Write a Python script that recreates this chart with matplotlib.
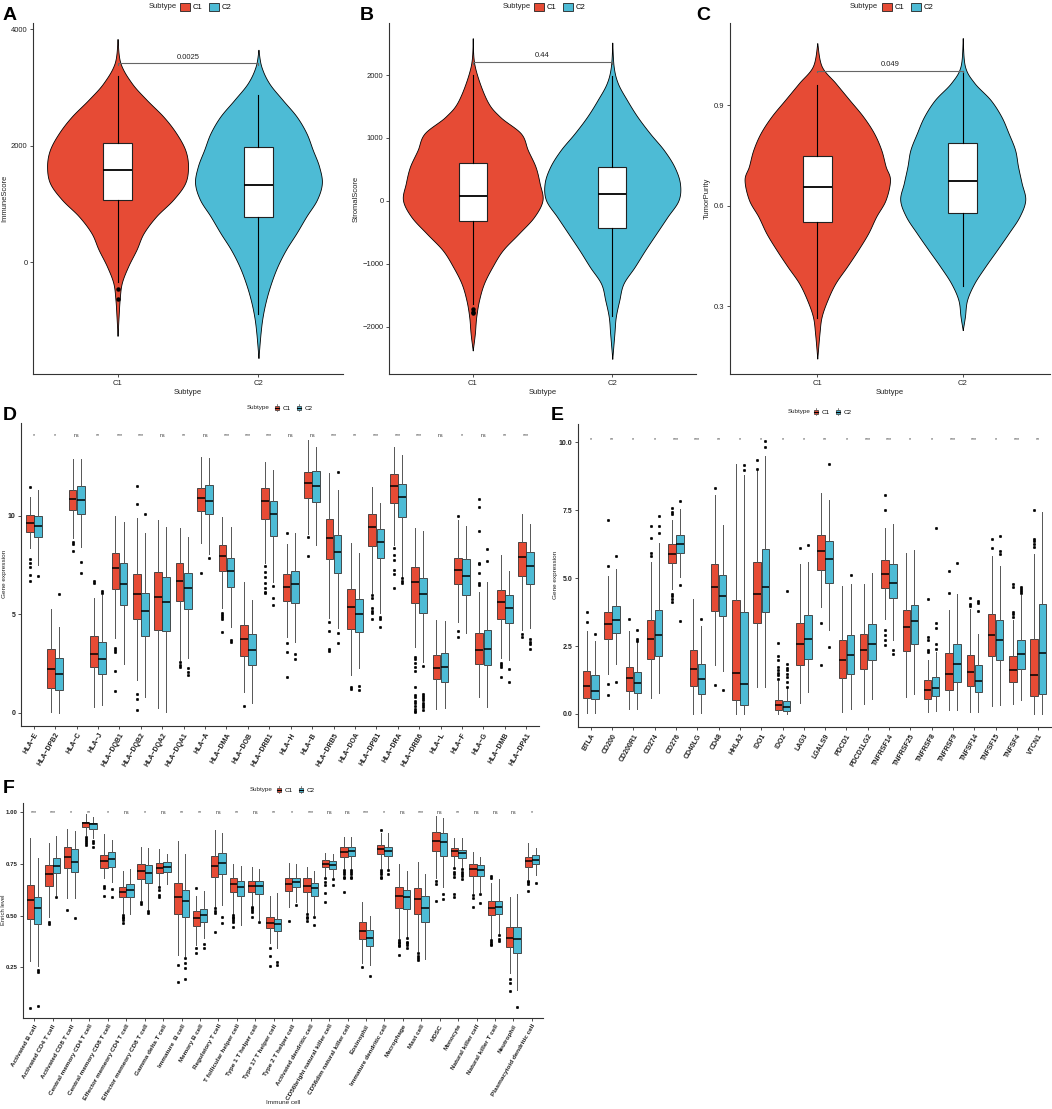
import numpy as np
import matplotlib
matplotlib.use('Agg')
import matplotlib.pyplot as plt
from matplotlib.patches import Rectangle, Patch
from matplotlib.lines import Line2D
from matplotlib.legend_handler import HandlerBase

plt.rcParams['font.family'] = ['Liberation Sans', 'DejaVu Sans']

RED = '#E64B35'
BLUE = '#4DBBD5'
groups = ['C1', 'C2']

# ---------------- Panels A-C : violin data ----------------
A_c1_levels = [3830, 3420, 3075, 2790, 2500, 2220, 1930, 1650, 1360, 1075, 790, 500, 220, -70, -355, -640, -925, -1260]
A_c1_dens = [0, 0.04, 0.2, 0.41, 0.65, 0.83, 0.96, 1.0, 0.96, 0.79, 0.55, 0.37, 0.27, 0.15, 0.06, 0.03, 0.015, 0]
A_c2_levels = [3646, 3360, 3074, 2789, 2503, 2217, 1931, 1646, 1360, 1074, 789, 503, 217, -69, -354, -640, -926, -1211, -1640]
A_c2_dens = [0, 0.04, 0.15, 0.34, 0.54, 0.68, 0.77, 0.86, 0.9, 0.83, 0.68, 0.54, 0.39, 0.27, 0.18, 0.11, 0.06, 0.03, 0]
A_box_c1 = dict(whislo=-340, q1=1077, med=1590, q3=2051, whishi=3197, fliers=[-460, -630])
A_box_c2 = dict(whislo=-880, q1=770, med=1330, q3=1980, whishi=2870, fliers=[])

B_c1_levels = [2586, 2135, 1604, 1338, 1073, 807, 542, 276, 11, -255, -520, -786, -1052, -1317, -1583, -1848, -2114, -2379]
B_c1_dens = [0, 0.03, 0.2, 0.39, 0.69, 0.79, 0.9, 0.96, 1.0, 0.88, 0.66, 0.43, 0.28, 0.16, 0.09, 0.05, 0.03, 0]
B_c2_levels = [2517, 2135, 1869, 1604, 1338, 1073, 807, 542, 276, 11, -255, -520, -786, -1052, -1317, -1583, -1848, -2114, -2512]
B_c2_dens = [0, 0.02, 0.08, 0.21, 0.36, 0.54, 0.74, 0.89, 0.97, 0.95, 0.79, 0.63, 0.47, 0.32, 0.16, 0.1, 0.05, 0.03, 0]
B_box_c1 = dict(whislo=-1640, q1=-324, med=80, q3=605, whishi=2000, fliers=[-1720, -1760, -1790])
B_box_c2 = dict(whislo=-1830, q1=-425, med=117, q3=542, whishi=1980, fliers=[])

C_c1_levels = [1.085, 1.016, 0.966, 0.916, 0.866, 0.816, 0.766, 0.717, 0.677, 0.617, 0.567, 0.517, 0.467, 0.418, 0.368, 0.318, 0.268, 0.218, 0.143]
C_c1_dens = [0, 0.06, 0.25, 0.44, 0.63, 0.78, 0.88, 0.94, 1.0, 0.94, 0.81, 0.7, 0.56, 0.41, 0.25, 0.14, 0.06, 0.03, 0]
C_c2_levels = [1.1, 1.016, 0.966, 0.916, 0.866, 0.816, 0.766, 0.717, 0.667, 0.617, 0.567, 0.517, 0.467, 0.418, 0.368, 0.318, 0.268, 0.228]
C_c2_dens = [0, 0.03, 0.16, 0.38, 0.53, 0.63, 0.72, 0.76, 0.81, 0.86, 0.78, 0.63, 0.47, 0.31, 0.16, 0.06, 0.03, 0]
C_box_c1 = dict(whislo=0.263, q1=0.552, med=0.655, q3=0.747, whishi=0.961, fliers=[])
C_box_c2 = dict(whislo=0.36, q1=0.577, med=0.672, q3=0.788, whishi=1.003, fliers=[])

A_p, B_p, C_p = '0.0025', '0.44', '0.049'
A_bracket, B_bracket, C_bracket = 3410, 2204, 1.0027

# ---------------- Panel D ----------------
d_genes = ['HLA\u2212E', 'HLA\u2212DPB2', 'HLA\u2212C', 'HLA\u2212J', 'HLA\u2212DQB1', 'HLA\u2212DQB2', 'HLA\u2212DQA2',
           'HLA\u2212DQA1', 'HLA\u2212A', 'HLA\u2212DMA', 'HLA\u2212DOB', 'HLA\u2212DRB1', 'HLA\u2212H', 'HLA\u2212B',
           'HLA\u2212DRB5', 'HLA\u2212DOA', 'HLA\u2212DPB1', 'HLA\u2212DRA', 'HLA\u2212DRB6', 'HLA\u2212L', 'HLA\u2212F',
           'HLA\u2212G', 'HLA\u2212DMB', 'HLA\u2212DPA1']
d_sig = ['*', '*', 'ns', '**', '***', '***', 'ns', '**', 'ns', '***', '***', '***', 'ns', 'ns', '***', '**', '***',
         '***', '***', 'ns', '*', 'ns', '**', '***']
d_c1_lo = [8.34, 0.05, 8.85, 0.3, 3.77, 1.65, 0.25, 2.67, 8.6, 5.3, 1.03, 7.58, 3.86, 9.05, 4.79, 1.91, 6.06, 8.5, 3.35, 0.17, 4.62, 0.81, 2.76, 4.2]
d_c1_q1 = [9.15, 1.27, 10.29, 2.32, 6.26, 4.75, 4.2, 5.67, 10.25, 7.21, 2.88, 9.81, 5.67, 10.88, 7.8, 4.26, 8.48, 10.63, 5.58, 1.69, 6.53, 2.45, 4.75, 6.95]
d_c1_med = [9.64, 2.2, 10.83, 3.0, 7.36, 6.0, 5.85, 6.67, 10.88, 7.97, 3.76, 10.73, 6.4, 11.64, 8.88, 5.38, 9.44, 11.52, 6.62, 2.25, 7.24, 3.18, 5.63, 7.92]
d_c1_q3 = [10.05, 3.25, 11.3, 3.9, 8.09, 7.04, 7.16, 7.58, 11.39, 8.51, 4.43, 11.39, 7.02, 12.2, 9.83, 6.26, 10.08, 12.11, 7.41, 2.93, 7.87, 4.03, 6.23, 8.68]
d_c1_hi = [10.96, 5.25, 12.86, 5.8, 9.98, 9.9, 9.8, 9.36, 12.96, 9.95, 6.62, 12.7, 8.56, 13.84, 12.15, 8.63, 11.47, 13.47, 9.36, 4.7, 9.78, 6.14, 8.0, 10.09]
d_c1_out = [[11.47, 7.8, 7.6, 7.4, 7.0, 6.7], [], [8.68, 8.56, 8.2], [6.7, 6.6], [3.27, 3.18, 3.1, 2.13, 1.12],
            [11.5, 10.58, 0.93, 0.68, 0.14], [], [2.55, 2.42, 2.3], [7.07], [5.08, 4.96, 4.84, 4.74, 4.11], [0.34],
            [7.45, 7.16, 6.9, 6.56, 6.31, 6.14, 6.06], [9.1, 3.55, 3.06, 1.83], [8.9, 7.95], [4.62, 4.16, 3.21, 3.14],
            [1.32, 1.18], [5.97, 5.8, 5.3, 5.18, 5.04, 4.74], [8.34, 8.0, 7.75, 7.24, 7.02, 6.35],
            [2.84, 2.7, 2.5, 2.3, 2.1, 1.3, 0.9, 0.8, 0.6, 0.5, 0.35, 0.2, 0.1, 0.05], [], [9.98, 4.16, 3.86],
            [10.85, 10.46, 9.24, 7.61, 7.55, 7.1, 6.56, 6.48], [2.54, 2.42, 2.3, 1.83], [3.98, 3.86]]
d_c2_lo = [7.5, 0.0, 8.43, 0.4, 2.45, 0.78, 0.05, 2.8, 8.05, 4.37, 0.47, 6.62, 3.6, 8.5, 4.28, 2.25, 5.04, 6.9, 2.59, 0.22, 4.06, 0.27, 2.67, 4.28]
d_c2_q1 = [8.9, 1.15, 10.08, 1.95, 5.45, 3.89, 4.13, 5.25, 10.08, 6.4, 2.42, 8.98, 5.55, 10.71, 7.1, 4.08, 7.83, 9.95, 5.08, 1.57, 5.99, 2.42, 4.53, 6.52]
d_c2_med = [9.47, 1.95, 10.8, 2.72, 6.51, 5.16, 5.62, 6.35, 10.74, 7.21, 3.16, 10.07, 6.51, 11.5, 8.17, 4.99, 8.68, 10.96, 6.02, 2.32, 6.95, 3.21, 5.3, 7.46]
d_c2_q3 = [10.0, 2.76, 11.5, 3.57, 7.58, 6.06, 6.9, 7.07, 11.54, 7.87, 3.98, 10.73, 7.19, 12.28, 9.02, 5.75, 9.31, 11.6, 6.82, 3.01, 7.78, 4.2, 5.97, 8.17]
d_c2_hi = [11.3, 4.33, 12.86, 5.97, 9.7, 9.1, 9.4, 8.9, 12.91, 9.44, 5.72, 12.32, 9.1, 13.5, 11.3, 8.12, 10.63, 13.08, 9.24, 4.65, 9.48, 6.65, 7.21, 9.58]
d_c2_out = [[6.95], [6.04], [7.63, 7.1], [6.2, 6.05], [], [10.1], [], [2.25, 2.08, 1.91], [7.87], [3.69, 3.6], [],
            [6.45, 5.8, 5.47], [2.96, 2.74], [], [12.2, 4.06, 3.55], [1.37, 1.15], [4.87, 4.75, 4.33],
            [6.82, 6.68, 6.56], [2.39, 0.95, 0.85, 0.75, 0.62, 0.5, 0.4, 0.3, 0.15], [], [], [8.31, 7.72],
            [2.22, 1.54], [3.74, 3.6, 3.48, 3.23]]

# ---------------- Panel E ----------------
e_genes = ['BTLA', 'CD200', 'CD200R1', 'CD274', 'CD276', 'CD40LG', 'CD48', 'HHLA2', 'IDO1', 'IDO2', 'LAG3', 'LGALS9',
           'PDCD1', 'PDCD1LG2', 'TNFRSF14', 'TNFRSF25', 'TNFRSF8', 'TNFRSF9', 'TNFSF14', 'TNFSF15', 'TNFSF4', 'VTCN1']
e_sig = ['*', '**', '*', '*', '***', '***', '**', '*', '*', '*', '*', '**', '*', '***', '***', '*', '*', '***', '***',
         '*', '***', '**']
e_c1_lo = [0.04, 1.48, 0.18, 0.6, 4.6, 0.01, 1.79, 0.01, 0.99, 0.01, 0.4, 3.93, 0.07, 0.38, 3.5, 0.63, 0.07, 0.13, 0.07, 0.28, 0.36, 0.01]
e_c1_q1 = [0.6, 2.75, 0.85, 2.02, 5.55, 1.03, 3.79, 0.53, 3.36, 0.13, 1.79, 5.28, 1.32, 1.67, 4.63, 2.3, 0.55, 0.89, 1.03, 2.12, 1.18, 0.66]
e_c1_med = [1.03, 3.32, 1.32, 2.75, 5.89, 1.65, 4.68, 1.52, 4.42, 0.32, 2.59, 5.98, 1.97, 2.37, 5.16, 3.2, 0.89, 1.48, 1.54, 2.89, 1.63, 1.42]
e_c1_q3 = [1.58, 3.74, 1.73, 3.47, 6.26, 2.34, 5.53, 4.2, 5.59, 0.53, 3.35, 6.57, 2.71, 2.95, 5.65, 3.84, 1.24, 2.24, 2.16, 3.66, 2.13, 2.77]
e_c1_hi = [3.04, 5.07, 3.05, 5.59, 7.14, 4.24, 8.04, 9.2, 8.96, 1.21, 5.53, 8.13, 4.71, 4.79, 6.85, 5.92, 1.97, 3.84, 3.85, 5.8, 3.47, 5.9]
e_c1_out = [[3.75, 3.38], [7.12, 5.44, 1.12, 0.69], [3.5], [6.92, 6.47, 5.93, 5.83], [7.57, 7.45, 7.35, 4.42, 4.33, 4.24, 4.12],
            [], [8.32, 1.08], [], [9.33, 9.01], [2.62, 2.13, 1.97, 1.73, 1.6, 1.5, 1.42, 1.3], [6.1], [3.36, 1.79], [], [],
            [8.04, 7.49, 3.1, 2.89, 2.71, 2.52], [], [4.22, 2.83, 2.71, 2.37, 2.28], [5.25, 4.45], [4.28, 4.03, 3.97],
            [6.42, 6.12], [4.79, 4.67, 3.75, 3.66, 3.57], [7.51, 6.45, 6.35, 6.25, 6.16]]
e_c2_lo = [0.04, 1.85, 0.18, 0.77, 5.04, 0.04, 1.58, 0.01, 0.99, 0.01, 0.81, 3.08, 0.2, 0.56, 2.71, 0.75, 0.11, 0.13, 0.07, 0.32, 0.5, 0.01]
e_c2_q1 = [0.56, 2.99, 0.78, 2.14, 5.93, 0.75, 3.59, 0.32, 3.75, 0.11, 2.03, 4.83, 1.48, 2.0, 4.28, 2.56, 0.66, 1.18, 0.81, 1.97, 1.64, 0.75]
e_c2_med = [0.86, 3.47, 1.15, 2.92, 6.25, 1.27, 4.34, 1.12, 4.67, 0.26, 2.77, 5.71, 2.18, 2.59, 4.83, 3.42, 0.97, 1.83, 1.2, 2.73, 2.22, 2.24]
e_c2_q3 = [1.45, 3.98, 1.54, 3.84, 6.6, 1.84, 5.1, 3.74, 6.08, 0.47, 3.65, 6.38, 2.92, 3.32, 5.53, 4.02, 1.36, 2.56, 1.81, 3.47, 2.71, 4.06]
e_c2_hi = [2.68, 5.32, 2.65, 6.3, 7.55, 3.22, 6.96, 8.81, 9.51, 0.97, 5.59, 7.89, 4.79, 5.18, 7.0, 6.02, 2.28, 4.4, 2.95, 5.43, 4.36, 7.43]
e_c2_out = [[2.94], [5.83, 1.18], [3.08, 2.77, 2.68], [7.3, 6.92, 6.67], [7.82, 4.73, 3.42], [3.5], [0.89], [9.17, 8.98],
            [10.04, 9.82], [4.52, 1.83, 1.7, 1.6, 1.48, 1.36, 1.18, 0.99], [6.23], [9.2, 2.46], [5.1], [], [2.37, 2.22],
            [], [6.85, 3.36, 3.17, 2.59, 2.4], [5.56], [4.14, 4.08, 3.79], [6.54, 5.99, 5.9], [4.69, 4.61, 4.52, 4.46], []]

# ---------------- Panel F ----------------
f_cells = ['Activated B cell', 'Activated CD4 T cell', 'Activated CD8 T cell', 'Central memory CD4 T cell',
           'Central memory CD8 T cell', 'Effector memeory CD4 T cell', 'Effector memeory CD8 T cell',
           'Gamma delta T cell', 'Immature  B cell', 'Memory B cell', 'Regulatory T cell', 'T follicular helper cell',
           'Type 1 T helper cell', 'Type 17 T helper cell', 'Type 2 T helper cell', 'Activated dendritic cell',
           'CD56bright natural killer cell', 'CD56dim natural killer cell', 'Eosinophil', 'Immature dendritic cell',
           'Macrophage', 'Mast cell', 'MDSC', 'Monocyte', 'Natural killer cell', 'Natural killer T cell',
           'Neutrophil', 'Plasmacytoid dendritic cell']
f_sig = ['***', '***', '*', '**', '*', 'ns', '*', 'ns', '**', '**', 'ns', '**', 'ns', '**', '*', '***', 'ns', 'ns',
         '***', '*', 'ns', '***', 'ns', '**', 'ns', 'ns', 'ns', '*']
f_c1_lo = [0.279, 0.495, 0.583, 0.888, 0.68, 0.511, 0.575, 0.643, 0.311, 0.359, 0.543, 0.508, 0.551, 0.367, 0.54, 0.511, 0.684, 0.728, 0.271, 0.728, 0.391, 0.33, 0.683, 0.736, 0.607, 0.386, 0.223, 0.676]
f_c1_q1 = [0.484, 0.643, 0.728, 0.925, 0.731, 0.588, 0.676, 0.704, 0.506, 0.452, 0.688, 0.612, 0.612, 0.439, 0.62, 0.612, 0.732, 0.78, 0.386, 0.795, 0.538, 0.508, 0.813, 0.787, 0.692, 0.503, 0.348, 0.736]
f_c1_med = [0.575, 0.699, 0.78, 0.944, 0.764, 0.612, 0.715, 0.731, 0.591, 0.487, 0.739, 0.651, 0.643, 0.466, 0.651, 0.644, 0.748, 0.808, 0.426, 0.819, 0.595, 0.579, 0.859, 0.809, 0.723, 0.538, 0.391, 0.763]
f_c1_q3 = [0.647, 0.744, 0.829, 0.952, 0.792, 0.639, 0.748, 0.752, 0.655, 0.522, 0.788, 0.683, 0.667, 0.495, 0.679, 0.679, 0.768, 0.829, 0.468, 0.84, 0.636, 0.631, 0.904, 0.824, 0.747, 0.572, 0.447, 0.784]
f_c1_hi = [0.875, 0.848, 0.915, 0.989, 0.891, 0.715, 0.829, 0.819, 0.859, 0.595, 0.912, 0.748, 0.736, 0.595, 0.752, 0.736, 0.803, 0.877, 0.564, 0.896, 0.747, 0.76, 0.979, 0.872, 0.806, 0.655, 0.588, 0.851]
f_c1_out = [[0.055], [0.471, 0.46], [0.527], [0.88, 0.87, 0.86, 0.85, 0.84], [0.643, 0.631, 0.596],
            [0.503, 0.495, 0.487, 0.479, 0.463], [0.567, 0.556], [0.636, 0.625, 0.6, 0.587], [0.263, 0.179],
            [0.631, 0.343, 0.322], [0.535, 0.524, 0.511, 0.42], [0.503, 0.495, 0.487, 0.479, 0.471, 0.447],
            [0.543, 0.535, 0.527, 0.519, 0.495], [0.343, 0.303, 0.258], [0.474], [0.506, 0.495, 0.487, 0.476],
            [0.679, 0.663, 0.647, 0.607, 0.564], [0.72, 0.71, 0.7, 0.688, 0.68, 0.615], [0.25],
            [0.912, 0.72, 0.71, 0.7, 0.688, 0.68], [0.383, 0.375, 0.367, 0.359, 0.351, 0.311],
            [0.322, 0.306, 0.298, 0.287], [0.667, 0.652, 0.572], [0.728, 0.712, 0.7, 0.688, 0.603, 0.588],
            [0.6, 0.583, 0.543], [0.691, 0.683, 0.38, 0.372, 0.364, 0.356], [0.194, 0.175, 0.138],
            [0.667, 0.66, 0.65, 0.62]]
f_c2_lo = [0.258, 0.6, 0.583, 0.872, 0.663, 0.508, 0.53, 0.652, 0.303, 0.391, 0.551, 0.455, 0.479, 0.343, 0.563, 0.503, 0.688, 0.724, 0.263, 0.724, 0.399, 0.29, 0.639, 0.728, 0.615, 0.412, 0.143, 0.696]
f_c2_q1 = [0.458, 0.704, 0.712, 0.915, 0.736, 0.591, 0.659, 0.712, 0.495, 0.471, 0.699, 0.595, 0.603, 0.428, 0.636, 0.596, 0.724, 0.787, 0.351, 0.787, 0.53, 0.471, 0.788, 0.776, 0.692, 0.508, 0.319, 0.747]
f_c2_med = [0.538, 0.74, 0.76, 0.94, 0.771, 0.623, 0.704, 0.736, 0.571, 0.503, 0.752, 0.639, 0.643, 0.458, 0.663, 0.631, 0.745, 0.811, 0.391, 0.809, 0.587, 0.535, 0.854, 0.803, 0.72, 0.543, 0.386, 0.768]
f_c2_q3 = [0.591, 0.779, 0.819, 0.947, 0.808, 0.651, 0.744, 0.76, 0.623, 0.532, 0.8, 0.667, 0.667, 0.484, 0.683, 0.655, 0.764, 0.829, 0.431, 0.829, 0.623, 0.596, 0.896, 0.816, 0.742, 0.572, 0.447, 0.792]
f_c2_hi = [0.779, 0.883, 0.909, 0.976, 0.864, 0.723, 0.827, 0.795, 0.795, 0.62, 0.899, 0.739, 0.723, 0.607, 0.747, 0.715, 0.796, 0.88, 0.5, 0.896, 0.716, 0.7, 0.971, 0.872, 0.784, 0.676, 0.604, 0.824]
f_c2_out = [[0.239, 0.228, 0.0625], [0.591], [0.487], [0.861, 0.851, 0.832], [0.627, 0.591], [], [0.524, 0.511], [],
            [0.295, 0.271, 0.247, 0.196], [0.364, 0.343], [0.495, 0.463], [], [0.471], [0.274, 0.263], [0.551],
            [0.495, 0.455], [0.675, 0.647], [0.72, 0.71, 0.7, 0.688, 0.68], [0.21], [0.72, 0.699],
            [0.391, 0.375, 0.367, 0.359, 0.343], [], [0.603, 0.58], [0.723, 0.71, 0.7, 0.69, 0.675], [0.604, 0.559],
            [0.407, 0.388, 0.378], [0.059], [0.659]]

# ---------------- figure ----------------
W, H = 1052, 1109
fig = plt.figure(figsize=(W / 100, H / 100), dpi=100)


def ax_px(x0, y0, x1, y1):
    return fig.add_axes([x0 / W, 1 - y1 / H, (x1 - x0) / W, (y1 - y0) / H])


def style(ax, fs=5.5, bold=False):
    for s in ['top', 'right']:
        ax.spines[s].set_visible(False)
    for s in ['left', 'bottom']:
        ax.spines[s].set_linewidth(0.8)
        ax.spines[s].set_color('#333333')
    ax.tick_params(length=2.5, width=0.6, color='#333333', labelsize=fs, pad=1.5, labelcolor='#222222')
    if bold:
        for lab in ax.get_yticklabels():
            lab.set_fontweight('bold')


def smooth(y, w, n=10):
    P = np.column_stack([np.asarray(y, float), np.asarray(w, float)])
    P = np.vstack([P[0], P, P[-1]])
    out = []
    t = np.linspace(0, 1, n, endpoint=False)[:, None]
    for i in range(1, len(P) - 2):
        p0, p1, p2, p3 = P[i - 1], P[i], P[i + 1], P[i + 2]
        seg = 0.5 * ((2 * p1) + (-p0 + p2) * t + (2 * p0 - 5 * p1 + 4 * p2 - p3) * t ** 2
                     + (-p0 + 3 * p1 - 3 * p2 + p3) * t ** 3)
        out.append(seg)
    out.append(P[-2][None])
    R = np.vstack(out)
    return R[:, 0], np.clip(R[:, 1], 0, None)


def violin_panel(ax, c1_lv, c1_d, c2_lv, c2_d, box1, box2, ylim, yticks, ylabel, ptxt, pbr):
    for pos, lv, dn, col, bx in [(1, c1_lv, c1_d, RED, box1), (2, c2_lv, c2_d, BLUE, box2)]:
        yy, ww = smooth(lv, dn)
        ax.fill_betweenx(yy, pos - 0.5 * ww, pos + 0.5 * ww, facecolor=col, edgecolor='black', lw=0.6, zorder=1)
        ax.bxp([bx], positions=[pos], widths=0.2, patch_artist=True, showcaps=False, manage_ticks=False,
               boxprops=dict(facecolor='white', edgecolor='#222222', lw=0.8),
               medianprops=dict(color='black', lw=1.3),
               whiskerprops=dict(color='black', lw=0.8),
               flierprops=dict(marker='o', ms=2.2, mfc='black', mec='black'), zorder=3)
    rng = ylim[1] - ylim[0]
    ax.plot([1, 1, 2, 2], [pbr - 0.004 * rng, pbr, pbr, pbr - 0.004 * rng], color='#666666', lw=0.8, zorder=4)
    ax.text(1.5, pbr + 0.008 * rng, ptxt, ha='center', va='bottom', fontsize=5.5, color='#222222')
    ax.set_xlim(0.4, 2.6)
    ax.set_ylim(*ylim)
    ax.set_xticks([1, 2])
    ax.set_xticklabels(groups)
    ax.set_yticks(yticks)
    ax.set_ylabel(ylabel, fontsize=5.5, labelpad=2, color='#222222')
    ax.set_xlabel('Subtype', fontsize=5.5, labelpad=2, color='#222222')
    style(ax)


axA = ax_px(33, 23, 343, 374)
violin_panel(axA, A_c1_levels, A_c1_dens, A_c2_levels, A_c2_dens, A_box_c1, A_box_c2, (-1914, 4104),
             [0, 2000, 4000], 'ImmuneScore', A_p, A_bracket)
axB = ax_px(389, 23, 696, 374)
violin_panel(axB, B_c1_levels, B_c1_dens, B_c2_levels, B_c2_dens, B_box_c1, B_box_c2, (-2753, 2828),
             [-2000, -1000, 0, 1000, 2000], 'StromalScore', B_p, B_bracket)
axC = ax_px(730, 23, 1050, 374)
violin_panel(axC, C_c1_levels, C_c1_dens, C_c2_levels, C_c2_dens, C_box_c1, C_box_c2, (0.097, 1.145),
             [0.3, 0.6, 0.9], 'TumorPurity', C_p, C_bracket)


def stats_list(lo, q1, med, q3, hi, out):
    return [dict(whislo=a, q1=b, med=c, q3=d, whishi=e, fliers=f) for a, b, c, d, e, f in zip(lo, q1, med, q3, hi, out)]


def box_panel(ax, labels, sig, s1, s2, ylim, yticks, ytl, sig_y, width, off, xfs=5, yfs=5):
    n = len(labels)
    pos = np.arange(1, n + 1)
    for stats, sgn, col in [(s1, -1, RED), (s2, 1, BLUE)]:
        ax.bxp(stats, positions=pos + sgn * off, widths=width, patch_artist=True, showcaps=False, manage_ticks=False,
               boxprops=dict(facecolor=col, edgecolor='#333333', lw=0.6),
               medianprops=dict(color='black', lw=1.1),
               whiskerprops=dict(color='#555555', lw=0.7),
               flierprops=dict(marker='o', ms=1.9, mfc='black', mec='black', mew=0.3))
    for p, s in zip(pos, sig):
        ax.text(p, sig_y, s, ha='center', va='center', fontsize=3.8, color='#333333')
    ax.set_xlim(0.4, n + 0.6)
    ax.set_ylim(*ylim)
    ax.set_yticks(yticks)
    ax.set_yticklabels(ytl)
    ax.set_xticks(pos)
    ax.set_xticklabels(labels, rotation=60, ha='right', rotation_mode='anchor', fontsize=xfs, fontweight='bold')
    style(ax, fs=yfs, bold=True)
    for lab in ax.get_xticklabels():
        lab.set_fontsize(xfs)


axD = ax_px(21, 423, 539, 726)
box_panel(axD, d_genes, d_sig,
          stats_list(d_c1_lo, d_c1_q1, d_c1_med, d_c1_q3, d_c1_hi, d_c1_out),
          stats_list(d_c2_lo, d_c2_q1, d_c2_med, d_c2_q3, d_c2_hi, d_c2_out),
          (-0.675, 14.7), [0, 5, 10], ['0', '5', '10'], 14.05, 0.36, 0.19)

axE = ax_px(578, 424, 1051, 727)
box_panel(axE, e_genes, e_sig,
          stats_list(e_c1_lo, e_c1_q1, e_c1_med, e_c1_q3, e_c1_hi, e_c1_out),
          stats_list(e_c2_lo, e_c2_q1, e_c2_med, e_c2_q3, e_c2_hi, e_c2_out),
          (-0.48, 10.67), [0, 2.5, 5, 7.5, 10], ['0.0', '2.5', '5.0', '7.5', '10.0'], 10.1, 0.35, 0.19)

axF = ax_px(23, 803, 543, 1018)
box_panel(axF, f_cells, f_sig,
          stats_list(f_c1_lo, f_c1_q1, f_c1_med, f_c1_q3, f_c1_hi, f_c1_out),
          stats_list(f_c2_lo, f_c2_q1, f_c2_med, f_c2_q3, f_c2_hi, f_c2_out),
          (0.0067, 1.042), [0.25, 0.5, 0.75, 1.0], ['0.25', '0.50', '0.75', '1.00'], 0.995, 0.4, 0.2,
          xfs=4.6, yfs=4.4)

# axis titles for D/E/F placed in the narrow margins
fig.text(5 / W, 1 - 574 / H, 'Gene expression', rotation=90, ha='center', va='center', fontsize=4.6, color='#222222')
fig.text(555 / W, 1 - 575 / H, 'Gene expression', rotation=90, ha='center', va='center', fontsize=4.6, color='#222222')
fig.text(3.5 / W, 1 - 910 / H, 'Enrich level', rotation=90, ha='center', va='center', fontsize=4.2, color='#222222')
fig.text(283 / W, 1 - 1103 / H, 'Immune cell', ha='center', va='center', fontsize=4.6, color='#222222')


# ---------------- legends ----------------
class BoxHandler(HandlerBase):
    def create_artists(self, legend, orig_handle, xd, yd, width, height, fontsize, trans):
        col = orig_handle.get_facecolor()
        x0, y0 = -xd, -yd
        bw = width * 0.7
        bx = x0 + (width - bw) / 2
        r = Rectangle((bx, y0 + height * 0.12), bw, height * 0.76, facecolor=col, edgecolor='#333333', lw=0.5,
                      transform=trans)
        m = Line2D([bx, bx + bw], [y0 + height / 2] * 2, color='black', lw=0.8, transform=trans)
        w1 = Line2D([x0 + width / 2] * 2, [y0 - height * 0.1, y0 + height * 0.12], color='#555555', lw=0.5,
                    transform=trans)
        w2 = Line2D([x0 + width / 2] * 2, [y0 + height * 0.88, y0 + height * 1.1], color='#555555', lw=0.5,
                    transform=trans)
        return [r, m, w1, w2]


def add_legend(text_right, left, ymid, fs, box=False, hl=1.3):
    handles = [Patch(facecolor=RED, edgecolor='#222222', lw=0.6), Patch(facecolor=BLUE, edgecolor='#222222', lw=0.6)]
    kw = dict(handler_map={Patch: BoxHandler()}) if box else {}
    fig.legend(handles, groups, loc='center left', bbox_to_anchor=(left / W, 1 - ymid / H), ncol=2, frameon=False,
               fontsize=fs, handlelength=hl, handleheight=hl, handletextpad=0.4, columnspacing=0.8,
               borderpad=0, borderaxespad=0, **kw)
    fig.text(text_right / W, 1 - ymid / H, 'Subtype', ha='right', va='center', fontsize=fs, color='#222222')


add_legend(177, 180, 7, 5.5)
add_legend(531, 534, 7, 5.5)
add_legend(878, 882, 7, 5.5)
add_legend(270, 274, 408, 4.5, box=True, hl=1.0)
add_legend(811, 813, 412, 4.5, box=True, hl=1.0)
add_legend(273, 276, 790, 4.5, box=True, hl=1.0)

# ---------------- panel letters ----------------
for letter, x, y in [('A', 3, 20), ('B', 360, 20), ('C', 696, 20), ('D', 3, 420), ('E', 551, 420), ('F', 3, 793)]:
    fig.text(x / W, 1 - y / H, letter, fontsize=14, fontweight='bold', ha='left', va='baseline')

fig.savefig('out.png', dpi=100)
